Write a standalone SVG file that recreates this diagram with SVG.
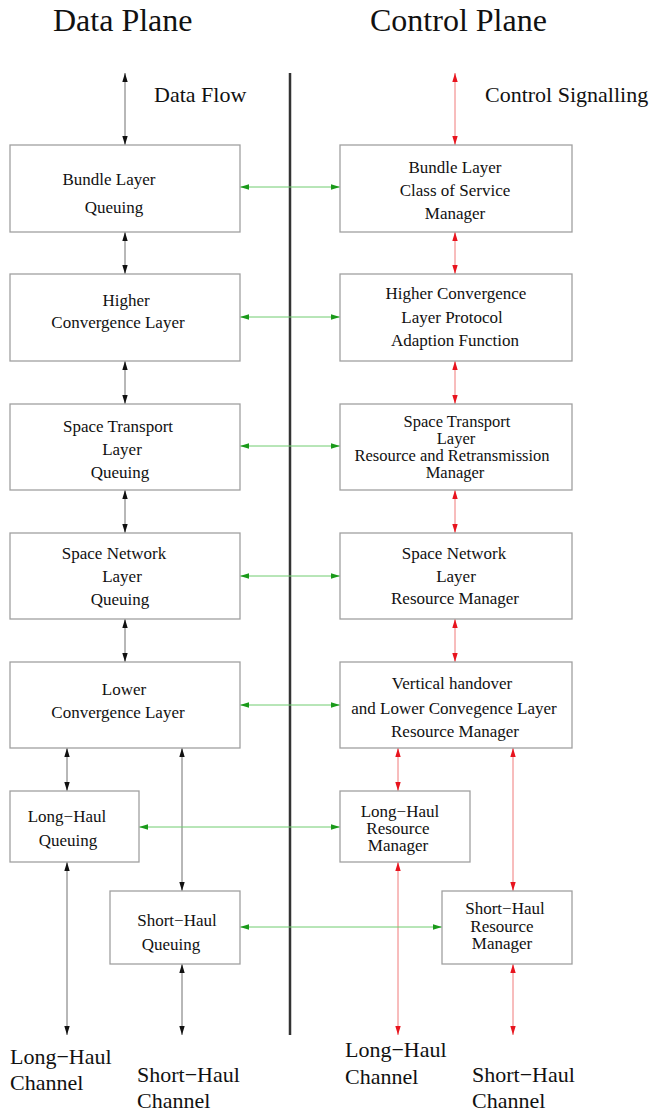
<svg xmlns="http://www.w3.org/2000/svg" width="652" height="1114" viewBox="0 0 652 1114">
<style>
.box{fill:#fff;stroke:#a0a0a0;stroke-width:1.3}
.t{font-family:"Liberation Serif","Times New Roman",serif;font-size:17px;fill:#111;text-anchor:middle}
.ts{font-family:"Liberation Serif","Times New Roman",serif;font-size:16.5px;fill:#111;text-anchor:middle}
.big{font-family:"Liberation Serif","Times New Roman",serif;font-size:32px;fill:#111}
.lab{font-family:"Liberation Serif","Times New Roman",serif;font-size:22px;fill:#111}
.k{stroke:#707070;stroke-width:1;fill:none;marker-start:url(#ak);marker-end:url(#ak)}
.r{stroke:#f07a7a;stroke-width:1;fill:none;marker-start:url(#ar);marker-end:url(#ar)}
.g{stroke:#70cc70;stroke-width:1;fill:none;marker-start:url(#ag);marker-end:url(#ag)}
</style>
<defs>
<marker id="ak" markerUnits="userSpaceOnUse" markerWidth="10" markerHeight="8" refX="9" refY="4" orient="auto-start-reverse"><path d="M0,1.3 L9,4 L0,6.7 Z" fill="#111"/></marker>
<marker id="ar" markerUnits="userSpaceOnUse" markerWidth="10" markerHeight="8" refX="9" refY="4" orient="auto-start-reverse"><path d="M0,1.3 L9,4 L0,6.7 Z" fill="#e8141e"/></marker>
<marker id="ag" markerUnits="userSpaceOnUse" markerWidth="10" markerHeight="8" refX="9" refY="4" orient="auto-start-reverse"><path d="M0,1.3 L9,4 L0,6.7 Z" fill="#1a9a1a"/></marker>
</defs>
<rect width="652" height="1114" fill="#fff"/>

<g id="titles">
<text class="big" x="53" y="31">Data Plane</text>
<text class="big" x="370" y="31">Control Plane</text>
<text class="lab" x="154" y="102">Data Flow</text>
<text class="lab" x="485" y="102">Control Signalling</text>
</g>

<g id="divider"><line x1="290" y1="73" x2="290" y2="1035" stroke="#333" stroke-width="2.5"/></g>

<g id="connectors">
<line class="k" x1="125" y1="73" x2="125" y2="145"/>
<line class="k" x1="125" y1="232" x2="125" y2="274"/>
<line class="k" x1="125" y1="361" x2="125" y2="404"/>
<line class="k" x1="125" y1="490" x2="125" y2="533"/>
<line class="k" x1="125" y1="619" x2="125" y2="662"/>
<line class="k" x1="67" y1="748" x2="67" y2="791"/>
<line class="k" x1="67" y1="862" x2="67" y2="1035"/>
<line class="k" x1="182" y1="748" x2="182" y2="891"/>
<line class="k" x1="182" y1="964" x2="182" y2="1035"/>

<line class="r" x1="455" y1="73" x2="455" y2="145"/>
<line class="r" x1="455" y1="232" x2="455" y2="274"/>
<line class="r" x1="455" y1="361" x2="455" y2="404"/>
<line class="r" x1="455" y1="490" x2="455" y2="533"/>
<line class="r" x1="455" y1="619" x2="455" y2="662"/>
<line class="r" x1="398" y1="748" x2="398" y2="791"/>
<line class="r" x1="398" y1="862" x2="398" y2="1035"/>
<line class="r" x1="513" y1="748" x2="513" y2="891"/>
<line class="r" x1="513" y1="964" x2="513" y2="1035"/>

<line class="g" x1="240" y1="187" x2="340" y2="187"/>
<line class="g" x1="240" y1="317" x2="340" y2="317"/>
<line class="g" x1="240" y1="446" x2="340" y2="446"/>
<line class="g" x1="240" y1="576" x2="340" y2="576"/>
<line class="g" x1="240" y1="705" x2="340" y2="705"/>
<line class="g" x1="139" y1="827" x2="340" y2="827"/>
<line class="g" x1="240" y1="927" x2="442" y2="927"/>
</g>

<g id="bundle-queuing">
<rect class="box" x="10" y="145" width="230" height="87"/>
<text class="t" x="109" y="185">Bundle Layer</text>
<text class="t" x="114" y="213">Queuing</text>
</g>
<g id="higher-cl">
<rect class="box" x="10" y="274" width="230" height="87"/>
<text class="t" x="126" y="306">Higher</text>
<text class="t" x="118" y="328">Convergence Layer</text>
</g>
<g id="space-transport-queuing">
<rect class="box" x="10" y="404" width="230" height="86"/>
<text class="t" x="118" y="432">Space Transport</text>
<text class="t" x="122" y="455">Layer</text>
<text class="t" x="120" y="478">Queuing</text>
</g>
<g id="space-network-queuing">
<rect class="box" x="10" y="533" width="230" height="86"/>
<text class="t" x="114" y="559">Space Network</text>
<text class="t" x="122" y="582">Layer</text>
<text class="t" x="120" y="605">Queuing</text>
</g>
<g id="lower-cl">
<rect class="box" x="10" y="662" width="230" height="86"/>
<text class="t" x="124" y="695">Lower</text>
<text class="t" x="118" y="718">Convergence Layer</text>
</g>
<g id="long-haul-queuing">
<rect class="box" x="10" y="791" width="129" height="71"/>
<text class="t" x="67" y="822">Long−Haul</text>
<text class="t" x="68" y="846">Queuing</text>
</g>
<g id="short-haul-queuing">
<rect class="box" x="110" y="891" width="130" height="73"/>
<text class="t" x="177" y="926">Short−Haul</text>
<text class="t" x="171" y="950">Queuing</text>
</g>

<g id="bundle-cos">
<rect class="box" x="340" y="145" width="232" height="87"/>
<text class="t" x="455" y="173">Bundle Layer</text>
<text class="t" x="455" y="196">Class of Service</text>
<text class="t" x="455" y="219">Manager</text>
</g>
<g id="higher-cl-paf">
<rect class="box" x="340" y="274" width="232" height="87"/>
<text class="t" x="456" y="299">Higher Convergence</text>
<text class="t" x="452" y="323">Layer Protocol</text>
<text class="t" x="455" y="346">Adaption Function</text>
</g>
<g id="space-transport-rm">
<rect class="box" x="340" y="404" width="232" height="86"/>
<text class="ts" x="457" y="427">Space Transport</text>
<text class="ts" x="456" y="444">Layer</text>
<text class="ts" x="452" y="461">Resource and Retransmission</text>
<text class="ts" x="455" y="478">Manager</text>
</g>
<g id="space-network-rm">
<rect class="box" x="340" y="533" width="232" height="86"/>
<text class="t" x="454" y="559">Space Network</text>
<text class="t" x="456" y="582">Layer</text>
<text class="t" x="455" y="604">Resource Manager</text>
</g>
<g id="vertical-handover">
<rect class="box" x="340" y="662" width="232" height="86"/>
<text class="t" x="452" y="689">Vertical handover</text>
<text class="t" x="454" y="714">and Lower Convegence Layer</text>
<text class="t" x="455" y="737">Resource Manager</text>
</g>
<g id="long-haul-rm">
<rect class="box" x="340" y="791" width="130" height="71"/>
<text class="t" x="400" y="817">Long−Haul</text>
<text class="t" x="398" y="834">Resource</text>
<text class="t" x="398" y="851">Manager</text>
</g>
<g id="short-haul-rm">
<rect class="box" x="442" y="891" width="130" height="73"/>
<text class="t" x="505" y="914">Short−Haul</text>
<text class="t" x="502" y="932">Resource</text>
<text class="t" x="502" y="949">Manager</text>
</g>

<g id="channels">
<text class="lab" x="10" y="1064">Long−Haul</text>
<text class="lab" x="10" y="1090">Channel</text>
<text class="lab" x="137" y="1082">Short−Haul</text>
<text class="lab" x="137" y="1108">Channel</text>
<text class="lab" x="345" y="1057">Long−Haul</text>
<text class="lab" x="345" y="1084">Channel</text>
<text class="lab" x="472" y="1082">Short−Haul</text>
<text class="lab" x="472" y="1108">Channel</text>
</g>
</svg>
